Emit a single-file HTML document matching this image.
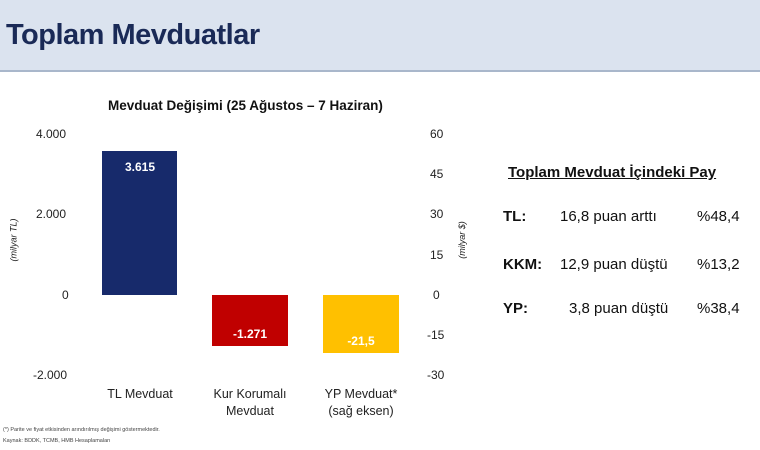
<!DOCTYPE html>
<html><head><meta charset="utf-8"><style>
body{margin:0;width:760px;height:450px;background:#fff;font-family:"Liberation Sans",sans-serif;position:relative;overflow:hidden}
.hdr{position:absolute;left:0;top:0;width:760px;height:70px;background:#dbe3ef;border-bottom:2px solid #a9b7cb}
.hdr div{position:absolute;left:6px;top:19px;font-size:29px;font-weight:bold;color:#1a2a57;letter-spacing:-0.5px}
.t{position:absolute;white-space:nowrap}
.ax{font-size:12px;color:#222}
.bar{position:absolute}
.bl{position:absolute;font-size:12px;font-weight:bold;color:#fff;text-align:center;width:76px}
.cat{font-size:12.5px;color:#222;text-align:center;width:110px;line-height:17px}
.r{font-size:15px;color:#111}
</style></head><body>
<div class="hdr"><div>Toplam Mevduatlar</div></div>
<div class="t" style="left:108px;top:98px;font-size:13.5px;font-weight:bold;color:#111">Mevduat Değişimi (25 Ağustos – 7 Haziran)</div>

<div class="t ax" style="left:36px;top:127px">4.000</div>
<div class="t ax" style="left:36px;top:207px">2.000</div>
<div class="t ax" style="left:62px;top:288px">0</div>
<div class="t ax" style="left:33px;top:368px">-2.000</div>

<div class="t ax" style="left:430px;top:127px">60</div>
<div class="t ax" style="left:430px;top:167px">45</div>
<div class="t ax" style="left:430px;top:207px">30</div>
<div class="t ax" style="left:430px;top:248px">15</div>
<div class="t ax" style="left:433px;top:288px">0</div>
<div class="t ax" style="left:427px;top:328px">-15</div>
<div class="t ax" style="left:427px;top:368px">-30</div>

<div class="t" style="left:-8px;top:235px;font-size:9px;font-style:italic;transform:rotate(-90deg);color:#222">(milyar TL)</div>
<div class="t" style="left:443px;top:235px;font-size:9px;font-style:italic;transform:rotate(-90deg);color:#222">(milyar $)</div>

<div class="bar" style="left:102px;top:151px;width:75px;height:144px;background:#172a6b"></div>
<div class="bl" style="left:102px;top:160px">3.615</div>
<div class="bar" style="left:212px;top:295px;width:76px;height:51px;background:#c00000"></div>
<div class="bl" style="left:212px;top:327px">-1.271</div>
<div class="bar" style="left:323px;top:295px;width:76px;height:58px;background:#ffc000"></div>
<div class="bl" style="left:323px;top:334px">-21,5</div>

<div class="t cat" style="left:85px;top:386px">TL Mevduat</div>
<div class="t cat" style="left:195px;top:386px">Kur Korumalı<br>Mevduat</div>
<div class="t cat" style="left:306px;top:386px">YP Mevduat*<br>(sağ eksen)</div>

<div class="t" style="left:3px;top:427px;font-size:5.5px;color:#444">(*) Parite ve fiyat etkisinden arındırılmış değişimi göstermektedir.</div>
<div class="t" style="left:3px;top:438px;font-size:5.5px;color:#444">Kaynak: BDDK, TCMB, HMB Hesaplamaları</div>

<div class="t" style="left:508px;top:164px;font-size:15px;font-weight:bold;color:#111;text-decoration:underline">Toplam Mevduat İçindeki Pay</div>
<div class="t r" style="left:503px;top:208px;font-weight:bold">TL:</div>
<div class="t r" style="left:560px;top:208px">16,8 puan arttı</div>
<div class="t r" style="left:697px;top:208px">%48,4</div>
<div class="t r" style="left:503px;top:256px;font-weight:bold">KKM:</div>
<div class="t r" style="left:560px;top:256px">12,9 puan düştü</div>
<div class="t r" style="left:697px;top:256px">%13,2</div>
<div class="t r" style="left:503px;top:300px;font-weight:bold">YP:</div>
<div class="t r" style="left:569px;top:300px">3,8 puan düştü</div>
<div class="t r" style="left:697px;top:300px">%38,4</div>
</body></html>
